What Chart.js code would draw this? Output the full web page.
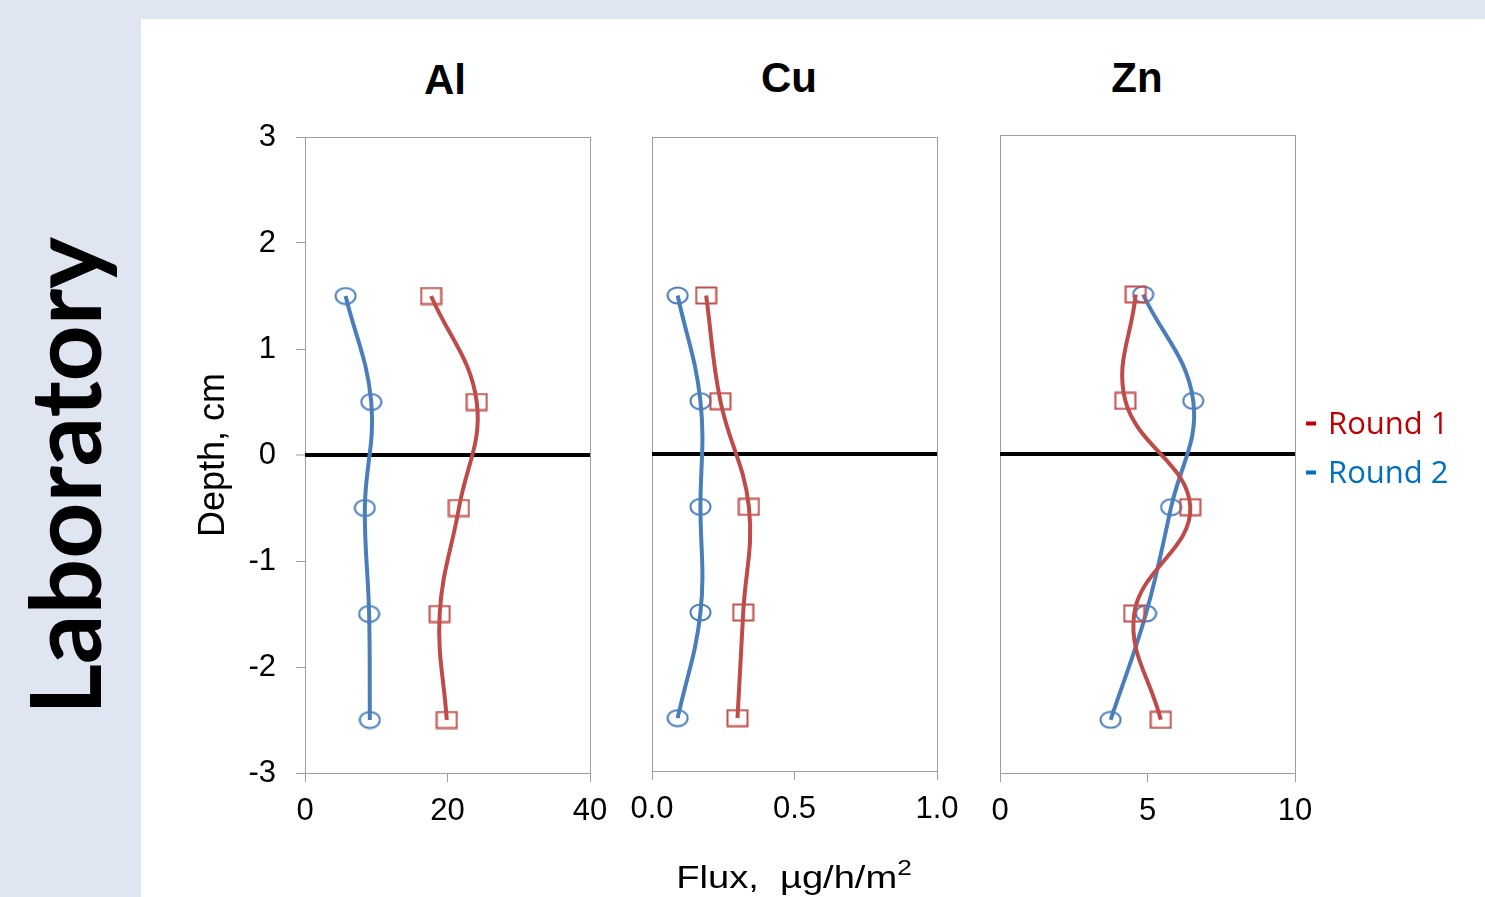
<!DOCTYPE html>
<html><head><meta charset="utf-8">
<script src="https://cdn.jsdelivr.net/npm/chart.js@4.4.1/dist/chart.umd.min.js"></script>
<style>
html,body{margin:0;padding:0;}
body{width:1485px;height:897px;background:#dfe6f2;position:relative;overflow:hidden;font-family:"Liberation Sans",Arial,sans-serif;}
#panel{position:absolute;left:141px;top:19px;width:1344px;height:878px;background:#fff;}
canvas.cv{position:absolute;}
.title{position:absolute;font-weight:bold;font-size:42px;color:#000;transform:translate(-50%,-50%);white-space:nowrap;line-height:1;}
#lab{position:absolute;left:63px;top:476px;font-family:Lato,"Open Sans",sans-serif;font-weight:bold;font-size:98px;color:#000;transform:translate(-50%,-50%) rotate(-90deg);white-space:nowrap;line-height:1;}
#flux{position:absolute;left:794px;top:877px;font-size:32px;color:#000;transform:translate(-50%,-50%) scaleX(1.19);white-space:pre;line-height:1;}
#flux sup{font-size:22px;vertical-align:top;position:relative;top:-4px;}
.leg{position:absolute;left:1306px;font-family:"Open Sans",sans-serif;font-size:31px;white-space:nowrap;line-height:1;transform:translateY(-50%);}
.leg .dash{display:inline-block;width:10px;height:4px;vertical-align:middle;margin-right:12px;position:relative;top:-2px;}
</style>
</head>
<body>
<div id="panel"></div>
<div id="lab">Laboratory</div>
<canvas class="cv" id="cAl" width="450" height="730" style="left:180px;top:120px;width:450px;height:730px"></canvas>
<canvas class="cv" id="cCu" width="350" height="730" style="left:620px;top:120px;width:350px;height:730px"></canvas>
<canvas class="cv" id="cZn" width="362" height="730" style="left:968px;top:120px;width:362px;height:730px"></canvas>
<div class="title" style="left:445px;top:80px">Al</div>
<div class="title" style="left:789px;top:78px">Cu</div>
<div class="title" style="left:1137px;top:78px">Zn</div>
<div id="flux">Flux,  µg/h/m<sup>2</sup></div>
<div id="legend"></div>
<script>
// ---- data ----
const depths = [1.5, 0.5, -0.5, -1.5, -2.5];
const alRound1 = [17.7, 24.1, 21.6, 18.9, 19.9];
const alRound2 = [5.7, 9.3, 8.4, 9.0, 9.1];
const cuRound1 = [0.19, 0.24, 0.34, 0.32, 0.30];
const cuRound2 = [0.09, 0.17, 0.17, 0.17, 0.09];
const znRound1 = [4.6, 4.25, 6.45, 4.55, 5.45];
const znRound2 = [4.85, 6.55, 5.8, 4.95, 3.75];
const seriesNames = ['Round 1', 'Round 2'];
const depthTicks = [-3, -2, -1, 0, 1, 2, 3];
const alTicks = [0, 20, 40];
const cuTicks = [0.0, 0.5, 1.0];
const znTicks = [0, 5, 10];

const RED = '#be4b48', BLUE = '#4a7ebb';
const LEG_COLORS = ['#c00000', '#0070c0'];
const GRAY = '#9e9e9e';
const FONT = '"Liberation Sans", Arial, sans-serif';

function marker(shape, color) {
  const c = document.createElement('canvas');
  c.width = 23; c.height = 19;
  const g = c.getContext('2d');
  g.strokeStyle = color; g.lineWidth = 2;
  if (shape === 'circle') {
    g.beginPath(); g.ellipse(11.5, 9.5, 10, 8, 0, 0, Math.PI * 2); g.stroke();
  } else {
    g.strokeRect(1.5, 1.5, 20, 16);
  }
  return c;
}
const sqMarker = marker('square', '#c0504d');
const ciMarker = marker('circle', BLUE);

const boxPlugin = {
  id: 'box',
  beforeDraw(chart) {
    const a = chart.chartArea, ctx = chart.ctx;
    ctx.save();
    ctx.strokeStyle = GRAY; ctx.lineWidth = 1;
    ctx.strokeRect(Math.round(a.left) + 0.5, Math.round(a.top) + 0.5,
                   Math.round(a.right - a.left), Math.round(a.bottom - a.top));
    ctx.restore();
  }
};

function pts(xs) { return xs.map((x, i) => ({x: x, y: depths[i]})); }

function makeChart(id, r1, r2, xticks, opts) {
  const xmin = xticks[0], xmax = xticks[xticks.length - 1];
  return new Chart(document.getElementById(id), {
    type: 'scatter',
    data: {
      datasets: [
        {label: seriesNames[0], data: pts(r1), showLine: true, borderColor: RED, borderWidth: 4,
         tension: 0.4, pointStyle: sqMarker, pointRadius: 9, pointHoverRadius: 9},
        {label: seriesNames[1], data: pts(r2), showLine: true, borderColor: BLUE, borderWidth: 4,
         tension: 0.4, pointStyle: ciMarker, pointRadius: 9, pointHoverRadius: 9}
      ]
    },
    options: {
      responsive: false, animation: false,
      layout: {padding: {top: opts.padTop, right: opts.padRight, left: 0, bottom: 0}},
      plugins: {legend: {display: false}, tooltip: {enabled: false}},
      scales: {
        x: {
          type: 'linear', min: xmin, max: xmax,
          afterBuildTicks: s => { s.ticks = xticks.map(v => ({value: v})); },
          ticks: {color: '#000', font: {family: FONT, size: 31}, padding: 11,
                  callback: v => opts.dec ? Number(v).toFixed(1) : String(v)},
          grid: {drawOnChartArea: false, tickLength: 9, tickColor: GRAY, tickWidth: 1},
          border: {display: false},
          afterFit: s => { s.height = opts.xH; s.paddingLeft = 0; s.paddingRight = 0; }
        },
        y: {
          type: 'linear', min: -3, max: 3,
          afterBuildTicks: s => { s.ticks = depthTicks.map(v => ({value: v})); },
          ticks: {display: opts.showY, color: '#000', font: {family: FONT, size: 31}, padding: 20},
          grid: {
            color: c => (c.tick && c.tick.value === 0) ? '#000' : 'rgba(0,0,0,0)',
            lineWidth: c => (c.tick && c.tick.value === 0) ? 4 : 1,
            drawTicks: opts.showY, tickLength: 9, tickColor: GRAY, tickWidth: 1
          },
          border: {display: false},
          title: {display: opts.showY, text: 'Depth, cm', color: '#000',
                  font: {family: FONT, size: 36}, padding: {top: 12, bottom: 0}},
          afterFit: s => { s.width = opts.yW; s.paddingTop = 0; s.paddingBottom = 0; }
        }
      }
    },
    plugins: [boxPlugin]
  });
}

makeChart('cAl', alRound1, alRound2, alTicks, {padTop: 17, padRight: 40, xH: 77, yW: 125, showY: true, dec: false});
makeChart('cCu', cuRound1, cuRound2, cuTicks, {padTop: 17, padRight: 33, xH: 79, yW: 32, showY: false, dec: true});
const zn = makeChart('cZn', znRound1, znRound2, znTicks, {padTop: 15, padRight: 35, xH: 77, yW: 32, showY: false, dec: false});

// HTML legend built from the chart's datasets
const legTops = [422, 471];
const leg = document.getElementById('legend');
zn.data.datasets.forEach((ds, i) => {
  const d = document.createElement('div');
  d.className = 'leg';
  d.style.top = legTops[i] + 'px';
  d.style.color = LEG_COLORS[i];
  d.innerHTML = '<span class="dash" style="background:' + LEG_COLORS[i] + '"></span>' + ds.label;
  leg.appendChild(d);
});
</script>
</body></html>
